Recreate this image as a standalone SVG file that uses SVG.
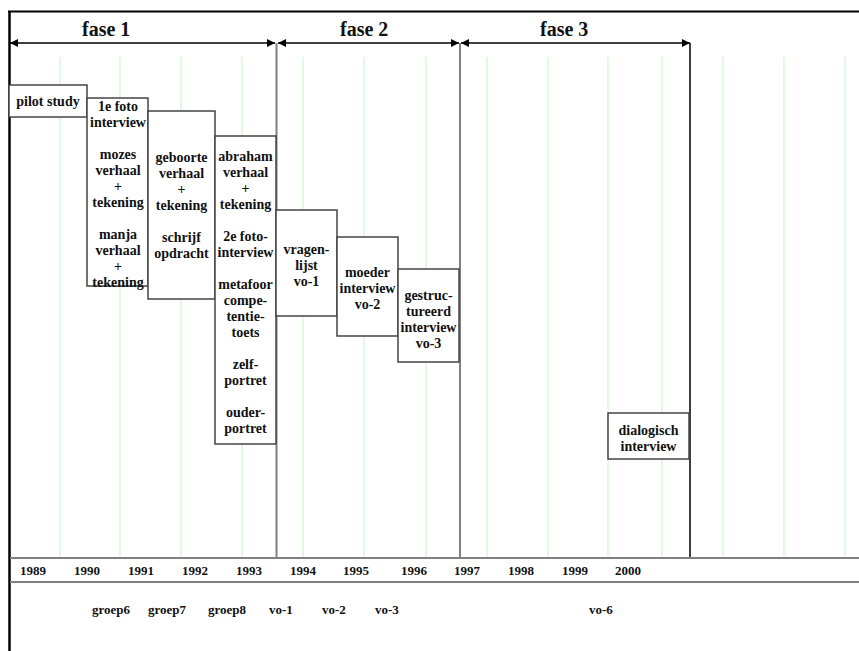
<svg xmlns="http://www.w3.org/2000/svg" width="859" height="651" viewBox="0 0 859 651">
<defs>
<style>
text{font-family:"Liberation Serif","Times New Roman",serif;font-weight:bold;fill:#111}
.fase{font-size:20px}
.yr{font-size:13px}
.grp{font-size:13px}
.bt{font-size:14px;text-anchor:middle}
.box{fill:#fff;stroke:#444;stroke-width:1.5}
.grid{stroke:#d6f8d6;stroke-width:1.5}
.axis{stroke:#808080;stroke-width:2}
.arr{stroke:#000;stroke-width:1.3;fill:none}
</style>
<marker id="ah" viewBox="0 0 10 10" refX="10" refY="5" markerWidth="9" markerHeight="8" markerUnits="userSpaceOnUse" orient="auto-start-reverse">
<path d="M0,0 L10,5 L0,10 z" fill="#000"/>
</marker>
</defs>
<rect x="0" y="0" width="859" height="651" fill="#fff"/>
<g id="grid">
<line class="grid" x1="60" y1="57" x2="60" y2="557"/>
<line class="grid" x1="120" y1="57" x2="120" y2="557"/>
<line class="grid" x1="181" y1="57" x2="181" y2="557"/>
<line class="grid" x1="242" y1="57" x2="242" y2="557"/>
<line class="grid" x1="303" y1="57" x2="303" y2="557"/>
<line class="grid" x1="364" y1="57" x2="364" y2="557"/>
<line class="grid" x1="426" y1="57" x2="426" y2="557"/>
<line class="grid" x1="487" y1="57" x2="487" y2="557"/>
<line class="grid" x1="548" y1="57" x2="548" y2="557"/>
<line class="grid" x1="608" y1="57" x2="608" y2="557"/>
<line class="grid" x1="662" y1="57" x2="662" y2="557"/>
<line class="grid" x1="723" y1="57" x2="723" y2="557"/>
<line class="grid" x1="784" y1="57" x2="784" y2="557"/>
<line class="grid" x1="845" y1="57" x2="845" y2="557"/>
</g>
<g id="frame">
<line x1="9.5" y1="11.5" x2="9.5" y2="651" stroke="#000" stroke-width="2.5"/>
<line x1="8" y1="11.5" x2="859" y2="11.5" stroke="#000" stroke-width="2"/>
<line class="axis" x1="10" y1="558" x2="859" y2="558"/>
<line class="axis" x1="10" y1="582" x2="859" y2="582"/>
<line x1="276.5" y1="43" x2="276.5" y2="557" stroke="#808080" stroke-width="2"/>
<line x1="460" y1="43" x2="460" y2="557" stroke="#808080" stroke-width="2"/>
<line x1="690" y1="43" x2="690" y2="557" stroke="#000" stroke-width="1.5"/>
</g>
<g id="connectors">
<line class="arr" x1="10" y1="43" x2="275" y2="43" marker-start="url(#ah)" marker-end="url(#ah)"/>
<line class="arr" x1="278" y1="43" x2="459" y2="43" marker-start="url(#ah)" marker-end="url(#ah)"/>
<line class="arr" x1="461" y1="43" x2="690" y2="43" marker-start="url(#ah)" marker-end="url(#ah)"/>
</g>
<g id="fase-labels">
<text class="fase" x="82" y="36">fase 1</text>
<text class="fase" x="340" y="36">fase 2</text>
<text class="fase" x="540" y="36">fase 3</text>
</g>
<g id="pilot">
<rect class="box" x="9" y="85" width="78" height="32"/>
<text class="bt" x="48" y="106">pilot study</text>
</g>
<g id="foto1">
<rect class="box" x="87" y="98" width="61" height="188"/>
<text class="bt" x="118" y="111">1e foto</text>
<text class="bt" x="118" y="127">interview</text>
<text class="bt" x="118" y="159">mozes</text>
<text class="bt" x="118" y="175">verhaal</text>
<text class="bt" x="118" y="191">+</text>
<text class="bt" x="118" y="207">tekening</text>
<text class="bt" x="118" y="239">manja</text>
<text class="bt" x="118" y="255">verhaal</text>
<text class="bt" x="118" y="271">+</text>
<text class="bt" x="118" y="287">tekening</text>
</g>
<g id="geboorte">
<rect class="box" x="148" y="111" width="67" height="188"/>
<text class="bt" x="181.5" y="162">geboorte</text>
<text class="bt" x="181.5" y="178">verhaal</text>
<text class="bt" x="181.5" y="194">+</text>
<text class="bt" x="181.5" y="210">tekening</text>
<text class="bt" x="181.5" y="242">schrijf</text>
<text class="bt" x="181.5" y="258">opdracht</text>
</g>
<g id="abraham">
<rect class="box" x="215" y="136" width="61" height="308"/>
<text class="bt" x="245.5" y="161">abraham</text>
<text class="bt" x="245.5" y="177">verhaal</text>
<text class="bt" x="245.5" y="193">+</text>
<text class="bt" x="245.5" y="209">tekening</text>
<text class="bt" x="245.5" y="241">2e foto-</text>
<text class="bt" x="245.5" y="257">interview</text>
<text class="bt" x="245.5" y="289">metafoor</text>
<text class="bt" x="245.5" y="305">compe-</text>
<text class="bt" x="245.5" y="321">tentie-</text>
<text class="bt" x="245.5" y="337">toets</text>
<text class="bt" x="245.5" y="369">zelf-</text>
<text class="bt" x="245.5" y="385">portret</text>
<text class="bt" x="245.5" y="417">ouder-</text>
<text class="bt" x="245.5" y="433">portret</text>
</g>
<g id="vragenlijst">
<rect class="box" x="276" y="210" width="61" height="106"/>
<text class="bt" x="306.5" y="254">vragen-</text>
<text class="bt" x="306.5" y="270">lijst</text>
<text class="bt" x="306.5" y="286">vo-1</text>
</g>
<g id="moeder">
<rect class="box" x="337" y="237" width="61" height="99"/>
<text class="bt" x="367.5" y="277">moeder</text>
<text class="bt" x="367.5" y="293">interview</text>
<text class="bt" x="367.5" y="309">vo-2</text>
</g>
<g id="gestructureerd">
<rect class="box" x="398" y="269" width="61" height="93"/>
<text class="bt" x="428.5" y="300">gestruc-</text>
<text class="bt" x="428.5" y="316">tureerd</text>
<text class="bt" x="428.5" y="332">interview</text>
<text class="bt" x="428.5" y="348">vo-3</text>
</g>
<g id="dialogisch">
<rect class="box" x="608" y="413" width="81" height="46"/>
<text class="bt" x="648.5" y="435">dialogisch</text>
<text class="bt" x="648.5" y="451">interview</text>
</g>
<g id="years">
<text class="yr" x="20" y="575">1989</text>
<text class="yr" x="74" y="575">1990</text>
<text class="yr" x="128" y="575">1991</text>
<text class="yr" x="182" y="575">1992</text>
<text class="yr" x="236" y="575">1993</text>
<text class="yr" x="290" y="575">1994</text>
<text class="yr" x="343" y="575">1995</text>
<text class="yr" x="401" y="575">1996</text>
<text class="yr" x="454" y="575">1997</text>
<text class="yr" x="508" y="575">1998</text>
<text class="yr" x="562" y="575">1999</text>
<text class="yr" x="615" y="575">2000</text>
</g>
<g id="groups">
<text class="grp" x="92" y="614">groep6</text>
<text class="grp" x="148" y="614">groep7</text>
<text class="grp" x="208" y="614">groep8</text>
<text class="grp" x="269" y="614">vo-1</text>
<text class="grp" x="322" y="614">vo-2</text>
<text class="grp" x="375" y="614">vo-3</text>
<text class="grp" x="589" y="614">vo-6</text>
</g>
</svg>
